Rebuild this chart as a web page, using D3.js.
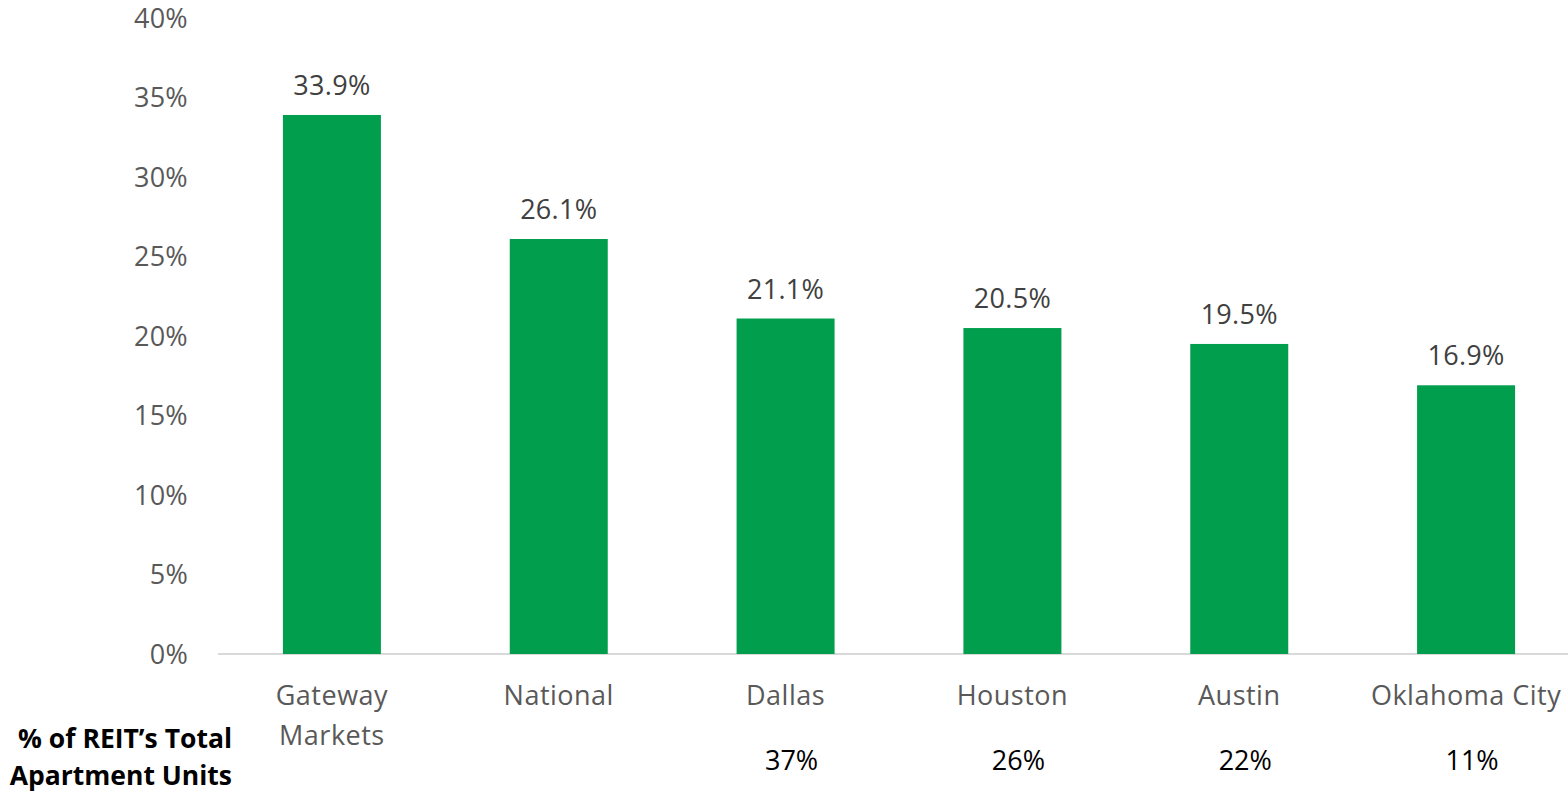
<!DOCTYPE html>
<html><head><meta charset="utf-8">
<script src="https://cdn.jsdelivr.net/npm/d3@7"></script>
<style>body{margin:0;background:#fff;} svg{display:block;font-family:"Open Sans", Lato, sans-serif;}</style>
</head><body>
<svg id="c" width="1568" height="793"></svg>
<script>
const categories = [["Gateway","Markets"],["National"],["Dallas"],["Houston"],["Austin"],["Oklahoma City"]];
const values = [33.9, 26.1, 21.1, 20.5, 19.5, 16.9];
const shares = ["", "", "37%", "26%", "22%", "11%"];
const yTicks = [0,5,10,15,20,25,30,35,40];
const rowLabel = ["% of REIT\u2019s Total","Apartment Units"];

const svg = d3.select("#c");
const x = d3.scaleBand().domain(d3.range(categories.length)).range([218.5,1579.5]).paddingInner(0.568).paddingOuter(0.284);
const y = d3.scaleLinear().domain([0,40]).range([654,18]);
const fs = 27;

svg.append("line").attr("x1",218).attr("x2",1568).attr("y1",y(0)).attr("y2",y(0)).attr("stroke","#d9d9d9").attr("stroke-width",2);

svg.selectAll(".yt").data(yTicks).join("text")
  .attr("x",188).attr("y",d=>y(d)).attr("dy","0.36em").attr("text-anchor","end")
  .attr("fill","#595959").attr("font-size",fs).attr("letter-spacing",0.3).text(d=>d+"%");

svg.selectAll(".bar").data(values).join("rect")
  .attr("x",(d,i)=>x(i)).attr("width",x.bandwidth())
  .attr("y",d=>y(d)).attr("height",d=>y(0)-y(d)).attr("fill","#009E4D");

svg.selectAll(".dl").data(values).join("text")
  .attr("x",(d,i)=>x(i)+x.bandwidth()/2).attr("y",d=>y(d)-20)
  .attr("text-anchor","middle").attr("fill","#404040").attr("font-size",fs).attr("letter-spacing",0.3)
  .text(d=>d.toFixed(1)+"%");

categories.forEach((lines,i)=>{
  lines.forEach((t,j)=>{
    svg.append("text").attr("x",x(i)+x.bandwidth()/2).attr("y",705+j*40)
      .attr("text-anchor","middle").attr("fill","#595959").attr("font-size",fs).attr("letter-spacing",0.5).text(t);
  });
});

svg.selectAll(".sh").data(shares).join("text")
  .attr("x",(d,i)=>x(i)+x.bandwidth()/2+6).attr("y",770)
  .attr("text-anchor","middle").attr("fill","#000").attr("font-size",fs).text(d=>d);

rowLabel.forEach((t,j)=>{
  svg.append("text").attr("x",232).attr("y",748+j*37).attr("text-anchor","end")
    .attr("font-weight","bold").attr("fill","#000").attr("font-size",26.5).text(t);
});
</script>
</body></html>
